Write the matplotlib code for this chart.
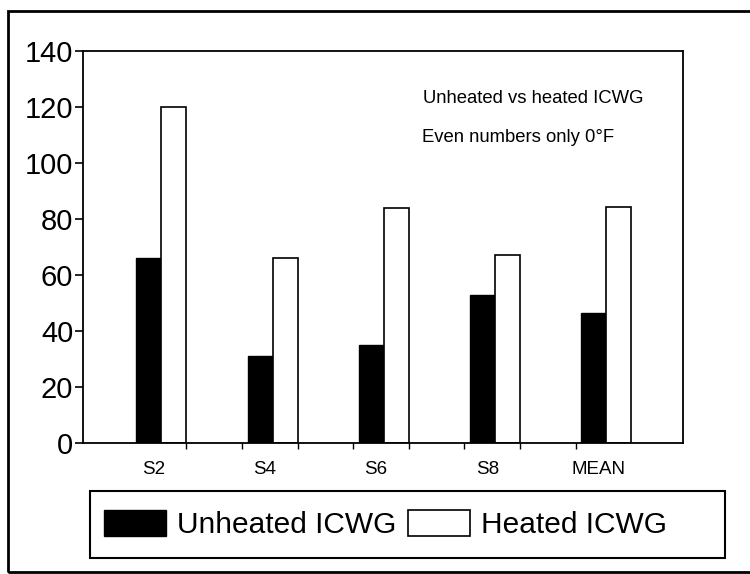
import matplotlib
matplotlib.use("Agg")
import matplotlib.pyplot as plt
import numpy as np
from matplotlib.patches import Rectangle, Patch

categories = ["S2", "S4", "S6", "S8", "MEAN"]
unheated = [66, 31, 35, 53, 46.3]
heated = [120, 66, 84, 67, 84.3]
y_ticks = [0, 20, 40, 60, 80, 100, 120, 140]
note_lines = ["Unheated vs heated ICWG", "Even numbers only 0\u00b0F"]
legend_labels = ["Unheated ICWG", "Heated ICWG"]

FONT = ["Liberation Sans", "DejaVu Sans"]

W = 750
H = 574


def fx(px):
    return px / W


def fy(py):
    return 1 - py / H


fig = plt.figure(figsize=(7.5, 5.74), dpi=100)
ax = fig.add_axes([fx(83), fy(443), fx(683) - fx(83), fy(51) - fy(443)])

x = np.arange(len(categories))
w = 0.225
ax.bar(x - w / 2, unheated, width=w, color="black", edgecolor="black", linewidth=1.0)
ax.bar(x + w / 2, heated, width=w, color="white", edgecolor="black", linewidth=1.2)

ax.set_xlim(-0.705, 4.69)
ax.set_ylim(0, 140)

ax.set_yticks(y_ticks)
ax.set_yticklabels([str(v) for v in y_ticks], fontfamily=FONT, fontsize=21)
ax.tick_params(axis="y", direction="out", length=6, width=1.2, pad=1)

ax.set_xticks(x - 0.07)
ax.set_xticklabels(categories, fontfamily=FONT, fontsize=13.5)
ax.tick_params(axis="x", which="major", length=0, pad=13)
minor = np.sort(np.concatenate([x[:-1] + w, x[:-1] + w + 0.5]))
ax.set_xticks(minor, minor=True)
ax.tick_params(axis="x", which="minor", direction="out", length=4, width=1.0)

for s in ax.spines.values():
    s.set_linewidth(1.3)

# notes inside plot
fig.text(fx(423), fy(103), note_lines[0], fontfamily=FONT, fontsize=13.3, va="baseline")
fig.text(fx(422), fy(142), note_lines[1], fontfamily=FONT, fontsize=13.3, va="baseline")

# legend
handles = [Patch(facecolor="black", edgecolor="black"),
           Patch(facecolor="white", edgecolor="black", linewidth=1.2)]
leg = fig.legend(handles, legend_labels, ncol=2, loc="center left",
                 bbox_to_anchor=(fx(90), fy(524.5)), frameon=False,
                 prop={"family": FONT, "size": 21.5},
                 handlelength=2.07, handleheight=1.0, handletextpad=0.37,
                 columnspacing=0.4, borderpad=0.47, borderaxespad=0)

fig.patches.append(Rectangle((fx(90), fy(558)), fx(725) - fx(90), fy(491) - fy(558),
                             transform=fig.transFigure, fill=False,
                             edgecolor="black", linewidth=1.5))
# outer frame (runs off the right edge)
fig.patches.append(Rectangle((fx(8), fy(572)), fx(770) - fx(8), fy(11) - fy(572),
                             transform=fig.transFigure, fill=False,
                             edgecolor="black", linewidth=2.0, clip_on=False))

fig.savefig("out.png", dpi=100)
